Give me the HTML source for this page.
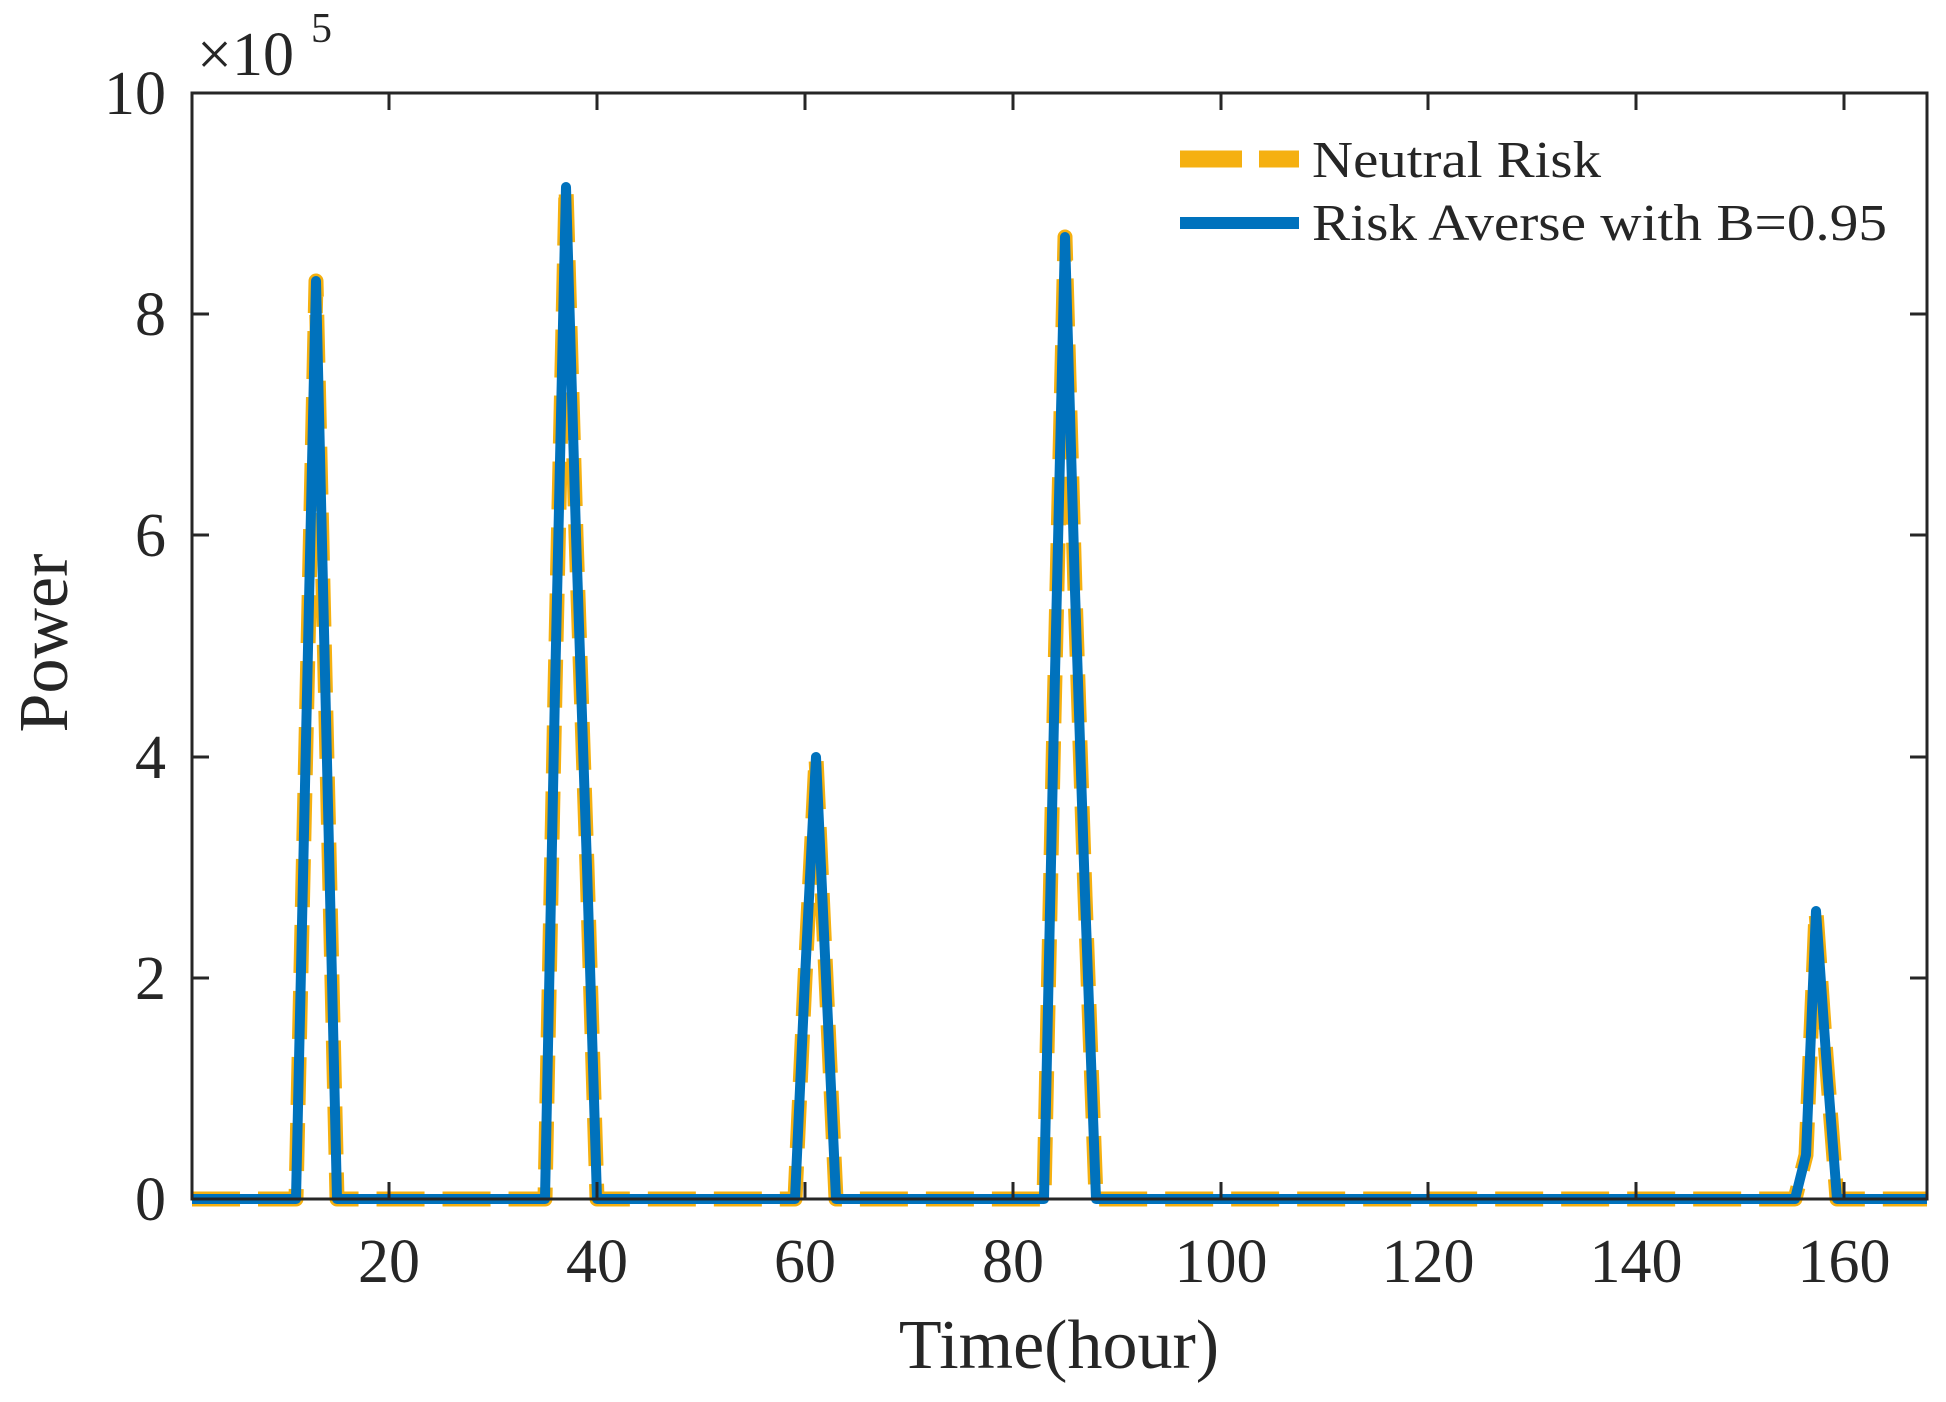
<!DOCTYPE html>
<html><head><meta charset="utf-8"><style>
html,body{margin:0;padding:0;background:#fff;}
svg{display:block;}
text{font-family:"Liberation Serif",serif;fill:#262626;}
</style></head><body>
<svg width="1946" height="1402" viewBox="0 0 1946 1402" xmlns="http://www.w3.org/2000/svg">
<rect width="1946" height="1402" fill="#fff"/>
<g fill="none" stroke-linejoin="round">
<polyline stroke="#F5B010" stroke-width="15" stroke-dasharray="48 18"
points="192,1199 296,1199 316,281 337,1199 545,1199 555,690 566,187 576,535 587,867 597,1199 795,1199 805,978 816,757 826,978 836,1199 1044,1199 1054,718 1065,237 1075,591 1085,895 1096,1199 1795,1199 1806,1155 1816,911 1826,1055 1837,1199 1927,1199"/>
<polyline stroke="#0072BD" stroke-width="10"
points="192,1199 296,1199 316,281 337,1199 545,1199 555,690 566,187 576,535 587,867 597,1199 795,1199 805,978 816,757 826,978 836,1199 1044,1199 1054,718 1065,237 1075,591 1085,895 1096,1199 1795,1199 1806,1155 1816,911 1826,1055 1837,1199 1927,1199"/>
</g>
<rect x="192" y="93" width="1735" height="1106" fill="none" stroke="#262626" stroke-width="3"/>
<g stroke="#262626" stroke-width="3">
<line x1="389" y1="1199" x2="389" y2="1182"/><line x1="389" y1="93" x2="389" y2="110"/>
<line x1="597" y1="1199" x2="597" y2="1182"/><line x1="597" y1="93" x2="597" y2="110"/>
<line x1="805" y1="1199" x2="805" y2="1182"/><line x1="805" y1="93" x2="805" y2="110"/>
<line x1="1013" y1="1199" x2="1013" y2="1182"/><line x1="1013" y1="93" x2="1013" y2="110"/>
<line x1="1221" y1="1199" x2="1221" y2="1182"/><line x1="1221" y1="93" x2="1221" y2="110"/>
<line x1="1428" y1="1199" x2="1428" y2="1182"/><line x1="1428" y1="93" x2="1428" y2="110"/>
<line x1="1636" y1="1199" x2="1636" y2="1182"/><line x1="1636" y1="93" x2="1636" y2="110"/>
<line x1="1844" y1="1199" x2="1844" y2="1182"/><line x1="1844" y1="93" x2="1844" y2="110"/>
<line x1="192" y1="978" x2="209" y2="978"/><line x1="1927" y1="978" x2="1910" y2="978"/>
<line x1="192" y1="757" x2="209" y2="757"/><line x1="1927" y1="757" x2="1910" y2="757"/>
<line x1="192" y1="535" x2="209" y2="535"/><line x1="1927" y1="535" x2="1910" y2="535"/>
<line x1="192" y1="314" x2="209" y2="314"/><line x1="1927" y1="314" x2="1910" y2="314"/>
</g>
<g font-size="62" text-anchor="middle">
<text x="389" y="1282">20</text><text x="597" y="1282">40</text><text x="805" y="1282">60</text>
<text x="1013" y="1282">80</text><text x="1221" y="1282">100</text><text x="1428" y="1282">120</text>
<text x="1636" y="1282">140</text><text x="1844" y="1282">160</text>
</g>
<g font-size="62" text-anchor="end">
<text x="166" y="1220">0</text><text x="166" y="999">2</text><text x="166" y="778">4</text>
<text x="166" y="556">6</text><text x="166" y="335">8</text><text x="166" y="114">10</text>
</g>
<text x="197" y="75" font-size="62">×10</text>
<text x="311" y="42" font-size="42">5</text>
<text x="1059" y="1368" font-size="70" text-anchor="middle">Time(hour)</text>
<text transform="translate(67,643) rotate(-90)" font-size="70" text-anchor="middle">Power</text>
<line x1="1180" y1="159" x2="1299" y2="159" stroke="#F5B010" stroke-width="17" stroke-dasharray="62 17"/>
<line x1="1180" y1="223" x2="1299" y2="223" stroke="#0072BD" stroke-width="12"/>
<text x="1312" y="177" font-size="52" textLength="289" lengthAdjust="spacingAndGlyphs" fill="#111">Neutral Risk</text>
<text x="1312" y="240" font-size="52" textLength="575" lengthAdjust="spacingAndGlyphs" fill="#111">Risk Averse with B=0.95</text>
</svg>
</body></html>
